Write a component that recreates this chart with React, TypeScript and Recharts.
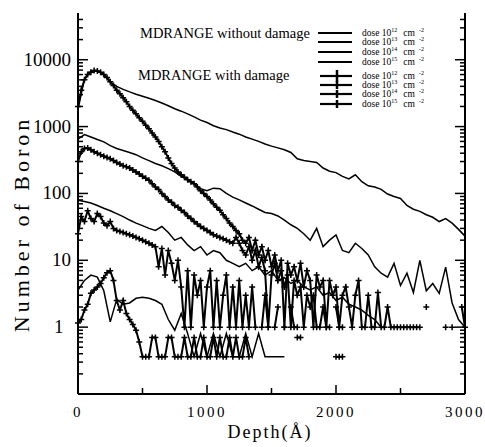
import { ComposedChart, Line, XAxis, YAxis } from 'recharts';

// depth grid for the smooth "without damage" curves (Å)
const DEPTH = [
  0, 50, 100, 150, 200, 250, 300, 350, 400, 450,
  500, 550, 600, 650, 700, 750, 800, 850, 900, 950,
  1000, 1050, 1100, 1150, 1200, 1250, 1300, 1350, 1400, 1450,
  1500, 1550, 1600, 1650, 1700, 1750, 1800, 1850, 1900, 1950,
  2000, 2050, 2100, 2150, 2200, 2250, 2300, 2350, 2400, 2450,
  2500, 2550, 2600, 2650, 2700, 2750, 2800, 2850, 2900, 2950,
  3000,
];

// finer depth grid for the "with damage" curves (Å)
const DEPTH_FINE = [
  0, 25, 50, 75, 100, 125, 150, 175, 200, 225,
  250, 275, 300, 325, 350, 375, 400, 425, 450, 475,
  500, 525, 550, 575, 600, 625, 650, 675, 700, 725,
  750, 775, 800, 825, 850, 875, 900, 925, 950, 975,
  1000, 1025, 1050, 1075, 1100, 1125, 1150, 1175, 1200, 1225,
  1250, 1275, 1300, 1325, 1350, 1375, 1400, 1425, 1450, 1475,
  1500, 1525, 1550, 1575, 1600, 1625, 1650, 1675, 1700, 1725,
  1750, 1775, 1800, 1825, 1850, 1875, 1900, 1925, 1950, 1975,
  2000, 2025, 2050, 2075, 2100, 2125, 2150, 2175, 2200, 2225,
  2250, 2275, 2300, 2325, 2350, 2375, 2400, 2425, 2450, 2475,
  2500, 2525, 2550, 2575, 2600, 2625, 2650, 2675, 2700, 2725,
  2750, 2775, 2800, 2825, 2850, 2875, 2900, 2925, 2950, 2975,
  3000,
];

// MDRANGE without damage
const NO_DMG_12 = [
  3.6, 5, 6, 5.6, 3.5, 1.2, 2.6, 2.2, 2.3, 2.7,
  2.8, 2.7, 2.5, 2.2, 1.3, 0.9, 1.6, 0.8, 0.36, 0.8,
  0.36, 0.8, 0.36, 0.8, 0.36, 0.36, 0.8, 0.36, 0.8, 0.36,
  0.36, 0.36, 0.36,
];
const NO_DMG_13 = [
  79, 76, 72, 66, 60, 55, 50, 45, 40, 36,
  33, 30, 28, 32, 26, 20, 22, 17, 14, 16,
  12, 14, 13, 10, 9, 8, 9, 7, 8, 6,
  7, 5, 5.5, 4.5, 5, 4, 3.6, 4, 3, 3.3,
  2.5, 2.8, 2.2, 2, 1.8, 1.5, 1.3, 1,
];
const NO_DMG_14 = [
  650, 760, 700, 640, 590, 520, 470, 440, 410, 380,
  340, 310, 280, 260, 235, 210, 180, 160, 140, 118,
  110, 120, 118, 100, 88, 80, 72, 65, 58, 52,
  50, 46, 40, 34, 30, 25, 20, 30, 16, 20,
  24, 14, 13, 18, 15, 12, 8, 6.4, 5.6, 9,
  4.2, 6.4, 3.3, 10, 3.5, 4.5, 3.2, 7.9, 2.3, 1.3,
  1,
];
const NO_DMG_15 = [
  1800, 5200, 6800, 6900, 6000, 4600, 4000, 3600, 3300, 3050,
  2850, 2650, 2450, 2250, 2050, 1850, 1700, 1550, 1400, 1250,
  1150, 1030, 950, 900, 830, 770, 700, 650, 600, 550,
  510, 480, 450, 410, 330, 310, 300, 290, 240, 215,
  205, 180, 165, 190, 150, 130, 125, 115, 98, 90,
  84, 66, 58, 54, 48, 44, 38, 42, 36, 29,
  23,
];

// MDRANGE with damage (null = no boron in that bin)
const DMG_12 = [
  1.15, 1.3, 1.8, 2.2, 3.2, 3.6, 4, 4.5, 5.5, 6.5,
  7, 5, 2.5, 1.8, 2.5, 1.6, 1.3, 1.1, 0.9, 0.6,
  0.36, 0.36, 0.36, 0.7, 0.7, 0.36, 0.36, 0.36, 0.7, 0.7,
  0.36, 0.36, 0.36, 0.7, 0.36, 0.36, 0.7, 0.36, 0.36, 0.7,
  0.36, 0.36, 0.7, 0.36, 0.7, 0.36, 0.36, 0.7, 0.36, 0.7,
  0.36, 0.36, 0.7, 0.36, null, null, null, null, null, null,
  null, null, null, null, null, null, null, null, 0.7, 0.7,
  null, null, null, null, null, null, null, null, null, null,
  0.36, 0.36, 0.36,
];
const DMG_13 = [
  25, 45, 38, 55, 42, 38, 50, 45, 36, 33,
  38, 30, 28, 27, 26, 25, 24, 23, 22, 21,
  20, 19, 18, 17, 16, 8, 15, 6, 14, 9,
  5, 10, 4, 1, 7, 1, 6, 3, 5, 1,
  4, 7, 1, 5, 1, 3, 6, 1, 4, 1,
  5, 1, 3, 1, 4, 1, null, 1, 3, 1,
  null, 1, 2, null, 1, null, 2, 1, 1,
];
const DMG_14 = [
  300, 420, 470, 480, 450, 420, 400, 380, 360, 345,
  330, 310, 290, 275, 260, 250, 240, 225, 210, 195,
  180, 168, 158, 140, 125, 115, 100, 90, 80, 74,
  66, 62, 56, 52, 46, 42, 38, 35, 32, 30,
  28, 26, 24, 23, 22, 21, 20, 19, 18, 22,
  18, 14, 12, 16, 10, 14, 8, 11, 7, 1,
  6, 9, 5, 7, 4, 6, 1, 5, 3, 4,
  1, 3, 2, 3, 1, 1, 2, 1, 1, null,
  2, 1, 1,
];
const DMG_15 = [
  2000, 3500, 5000, 6000, 6500, 6900, 6800, 6500, 6000, 5400,
  4700, 4100, 3500, 3100, 2700, 2350, 2000, 1750, 1550, 1350,
  1200, 1050, 930, 800, 700, 600, 500, 420, 340, 280,
  240, 210, 190, 175, 160, 150, 140, 125, 110, 100,
  90, 80, 70, 62, 56, 48, 42, 36, 32, 28,
  25, 20, 18, 22, 14, 20, 12, 16, 10, 14,
  8, 12, 7, 10, 1, 9, 6, 8, 5, 9,
  4, 7, 5, 1, 6, 4, 5, 1, 5, 3,
  4, 1, 3, 4, 2, 1, 3, 5, 1, 1,
  3, 1, 1, 3.3, 1, 1, 2, 1, 1, 1,
  1, 1, 1, 1, 1, 1, 1, null, 2, null,
  null, null, null, null, 1, null, 1, null, null, 2,
  1,
];

const X_TICKS = [0, 500, 1000, 1500, 2000, 2500, 3000];
const X_LABELS = [0, 1000, 2000, 3000];
const TOP_TICKS = [0, 300, 600, 900, 1200, 1500, 1800, 2100, 2400, 2700, 3000];
const Y_TICKS = [
  0.2, 0.3, 0.4, 0.5, 0.6, 0.7, 0.8, 0.9,
  1, 2, 3, 4, 5, 6, 7, 8, 9,
  10, 20, 30, 40, 50, 60, 70, 80, 90,
  100, 200, 300, 400, 500, 600, 700, 800, 900,
  1000, 2000, 3000, 4000, 5000, 6000, 7000, 8000, 9000,
  10000, 20000, 30000, 40000,
];
const Y_LABELS = [1, 10, 100, 1000, 10000];

const DOSES = ['12', '13', '14', '15'];

const toRows = (depths: number[], values: (number | null)[]) =>
  depths.map((d, i) => ({ d, v: values[i] ?? null }));

const SERIES = [
  { key: 'n12', data: toRows(DEPTH, NO_DMG_12), damage: false },
  { key: 'n13', data: toRows(DEPTH, NO_DMG_13), damage: false },
  { key: 'n14', data: toRows(DEPTH, NO_DMG_14), damage: false },
  { key: 'n15', data: toRows(DEPTH, NO_DMG_15), damage: false },
  { key: 'd12', data: toRows(DEPTH_FINE, DMG_12), damage: true },
  { key: 'd13', data: toRows(DEPTH_FINE, DMG_13), damage: true },
  { key: 'd14', data: toRows(DEPTH_FINE, DMG_14), damage: true },
  { key: 'd15', data: toRows(DEPTH_FINE, DMG_15), damage: true },
];

const SERIF = '"Liberation Serif", "DejaVu Serif", serif';

function BottomTick({ x, y, payload }: any) {
  const v = payload.value;
  const major = X_LABELS.includes(v);
  return (
    <g>
      <line x1={x} x2={x} y1={y} y2={y - (major ? 9 : 6)} stroke="#000" strokeWidth={1.5} />
      {major && (
        <text x={x} y={y + 23} textAnchor="middle" fontFamily={SERIF} fontSize={15} letterSpacing={2.5} fill="#000">
          {v}
        </text>
      )}
    </g>
  );
}

function TopTick({ x, y, payload }: any) {
  const long = payload.value % 600 === 0;
  return <line x1={x} x2={x} y1={y} y2={y + (long ? 8 : 5)} stroke="#000" strokeWidth={1.5} />;
}

function LeftTick({ x, y, payload }: any) {
  const v = payload.value;
  const major = Y_LABELS.includes(v);
  return (
    <g>
      <line x1={x} x2={x + (major ? 10 : 5)} y1={y} y2={y} stroke="#000" strokeWidth={1.5} />
      {major && (
        <text x={v === 1 ? x - 24 : x - 7} y={y + 6} textAnchor={v === 1 ? 'start' : 'end'} fontFamily={SERIF} fontSize={19} fill="#000">
          {v}
        </text>
      )}
    </g>
  );
}

function RightTick({ x, y, payload }: any) {
  const major = Y_LABELS.includes(payload.value);
  return <line x1={x} x2={x - (major ? 10 : 5)} y1={y} y2={y} stroke="#000" strokeWidth={1.5} />;
}

function CrossDot({ cx, cy }: any) {
  if (cx == null || cy == null || Number.isNaN(cy)) return null;
  return <path d={`M${cx - 3},${cy}h6M${cx},${cy - 3}v6`} stroke="#000" strokeWidth={1.5} fill="none" />;
}

function DoseLabel({ y, dose }: { y: number; dose: string }) {
  return (
    <text x={362} y={y} fontFamily={SERIF} fontSize={9.5} fill="#000">
      dose 10
      <tspan dy={-4} fontSize={6}>{dose}</tspan>
      <tspan dy={4} dx={6} fontSize={9.5}>cm</tspan>
      <tspan dy={-4} dx={4} fontSize={6}>-2</tspan>
    </text>
  );
}

const NO_DMG_ROWS = [33, 42, 52, 62];
const DMG_ROWS = [76, 85, 94, 104];

export default function App() {
  return (
    <div style={{ position: 'absolute', left: 0, top: 0, background: '#fff' }}>
      <ComposedChart width={485} height={447} margin={{ top: 13, right: 0, bottom: 0, left: 0 }}>
        <XAxis
          xAxisId="bottom"
          dataKey="d"
          type="number"
          domain={[0, 3000]}
          ticks={X_TICKS}
          interval={0}
          height={53}
          tickSize={0}
          tickMargin={0}
          tick={<BottomTick />}
          axisLine={{ stroke: '#000', strokeWidth: 2 }}
        />
        <XAxis
          xAxisId="top"
          orientation="top"
          dataKey="d"
          type="number"
          domain={[0, 3000]}
          ticks={TOP_TICKS}
          interval={0}
          height={0}
          tickSize={0}
          tickMargin={0}
          tick={<TopTick />}
          axisLine={{ stroke: '#000', strokeWidth: 1.5 }}
        />
        <YAxis
          yAxisId="left"
          scale="log"
          type="number"
          domain={[0.1, 50000]}
          allowDataOverflow
          ticks={Y_TICKS}
          interval={0}
          width={78}
          tickSize={0}
          tickMargin={0}
          tick={<LeftTick />}
          axisLine={{ stroke: '#000', strokeWidth: 2 }}
        />
        <YAxis
          yAxisId="right"
          orientation="right"
          scale="log"
          type="number"
          domain={[0.1, 50000]}
          allowDataOverflow
          ticks={Y_TICKS}
          interval={0}
          width={20}
          tickSize={0}
          tickMargin={0}
          tick={<RightTick />}
          axisLine={{ stroke: '#000', strokeWidth: 2 }}
        />
        {SERIES.map((s) => (
          <Line
            key={s.key}
            data={s.data}
            xAxisId="bottom"
            yAxisId="left"
            dataKey="v"
            type="linear"
            stroke="#000"
            strokeWidth={s.damage ? 2 : 1.5}
            dot={s.damage ? <CrossDot /> : false}
            activeDot={false}
            isAnimationActive={false}
          />
        ))}

        <g>
          <text
            x={29}
            y={224}
            transform="rotate(-90 29 224)"
            textAnchor="middle"
            fontFamily={SERIF}
            fontSize={22}
            letterSpacing={4}
            fill="#000"
          >
            Number of Boron
          </text>
          <text x={270} y={438} textAnchor="middle" fontFamily={SERIF} fontSize={18} letterSpacing={2} fill="#000">
            Depth(Å)
          </text>
          <text x={140} y={38} fontFamily={SERIF} fontSize={14.5} fill="#000">
            MDRANGE without damage
          </text>
          <text x={138} y={80} fontFamily={SERIF} fontSize={14.5} fill="#000">
            MDRANGE with damage
          </text>
          {NO_DMG_ROWS.map((y, i) => (
            <g key={`n${i}`}>
              <line x1={318} x2={352} y1={y} y2={y} stroke="#000" strokeWidth={1.8} />
              <DoseLabel y={y + 3} dose={DOSES[i]} />
            </g>
          ))}
          {DMG_ROWS.map((y, i) => (
            <g key={`d${i}`}>
              <line x1={320} x2={352} y1={y} y2={y} stroke="#000" strokeWidth={2.2} />
              <path d={`M337,${y - (i === 0 ? 6 : 4)}v${i === 0 ? 12 : 8}`} stroke="#000" strokeWidth={2.5} />
              <DoseLabel y={y + 3} dose={DOSES[i]} />
            </g>
          ))}
        </g>
      </ComposedChart>
    </div>
  );
}
